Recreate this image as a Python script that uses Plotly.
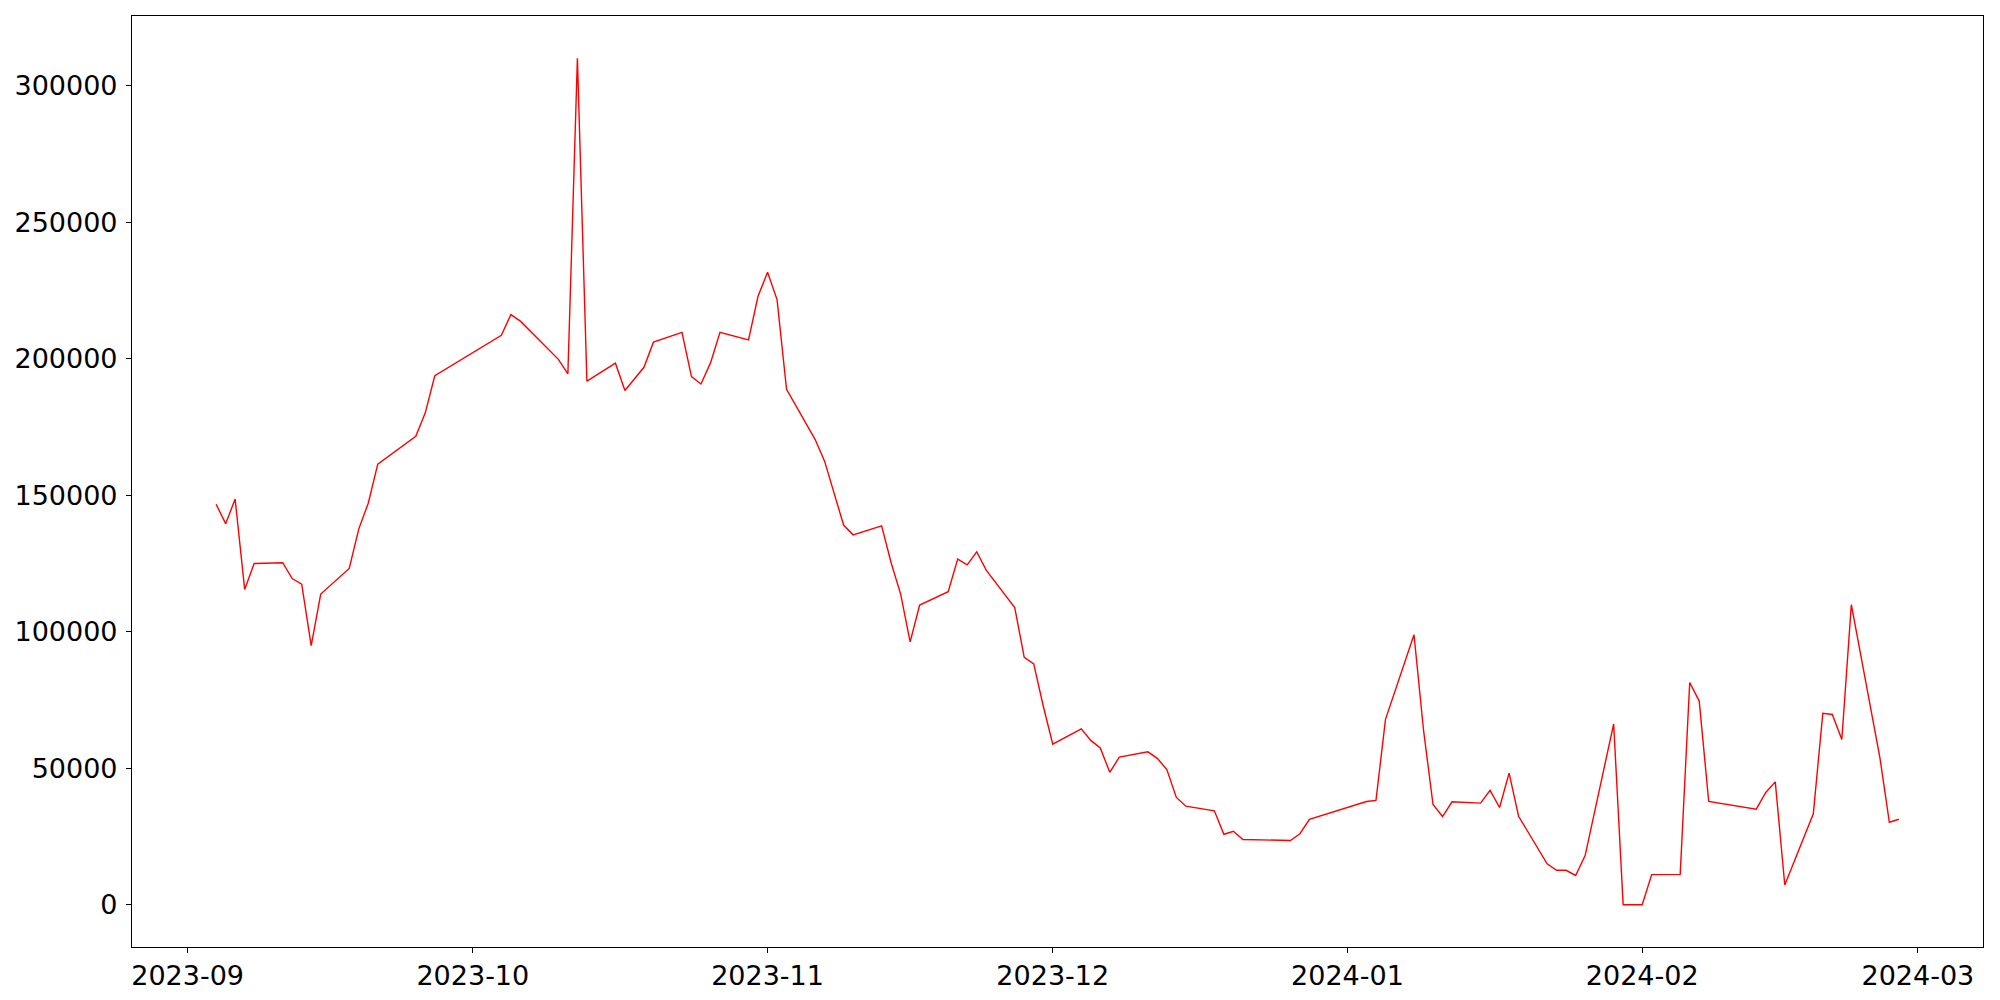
import pandas as pd
import plotly.graph_objects as go

dates = [
    "2023-09-04", "2023-09-05", "2023-09-06", "2023-09-07", "2023-09-08",
    "2023-09-11", "2023-09-12", "2023-09-13", "2023-09-14", "2023-09-15",
    "2023-09-18", "2023-09-19", "2023-09-20", "2023-09-21",
    "2023-09-25", "2023-09-26", "2023-09-27",
    "2023-10-04", "2023-10-05", "2023-10-06",
    "2023-10-10", "2023-10-11", "2023-10-12", "2023-10-13",
    "2023-10-16", "2023-10-17", "2023-10-19", "2023-10-20",
    "2023-10-23", "2023-10-24", "2023-10-25", "2023-10-26", "2023-10-27",
    "2023-10-30", "2023-10-31", "2023-11-01", "2023-11-02", "2023-11-03",
    "2023-11-06", "2023-11-07", "2023-11-09", "2023-11-10",
    "2023-11-13", "2023-11-14", "2023-11-15", "2023-11-16", "2023-11-17",
    "2023-11-20", "2023-11-21", "2023-11-22", "2023-11-23", "2023-11-24",
    "2023-11-27", "2023-11-28", "2023-11-29", "2023-11-30", "2023-12-01",
    "2023-12-04", "2023-12-05", "2023-12-06", "2023-12-07", "2023-12-08",
    "2023-12-11", "2023-12-12", "2023-12-13", "2023-12-14", "2023-12-15",
    "2023-12-18", "2023-12-19", "2023-12-20", "2023-12-21",
    "2023-12-26", "2023-12-27", "2023-12-28",
    "2024-01-03", "2024-01-04", "2024-01-05",
    "2024-01-08", "2024-01-09", "2024-01-10", "2024-01-11", "2024-01-12",
    "2024-01-15", "2024-01-16", "2024-01-17", "2024-01-18", "2024-01-19",
    "2024-01-22", "2024-01-23", "2024-01-24", "2024-01-25", "2024-01-26",
    "2024-01-29", "2024-01-30", "2024-02-01", "2024-02-02",
    "2024-02-05", "2024-02-06", "2024-02-07", "2024-02-08",
    "2024-02-13", "2024-02-14", "2024-02-15", "2024-02-16",
    "2024-02-19", "2024-02-20", "2024-02-21", "2024-02-22", "2024-02-23",
    "2024-02-26", "2024-02-27", "2024-02-28",
]

values = [
    146700, 139600, 148600, 115500, 125000,
    125300, 119500, 117400, 94900, 113800,
    123200, 137600, 147100, 161400,
    171600, 180200, 193800,
    208600, 216200, 213800,
    199800, 194500, 310100, 191800,
    198400, 188400, 196900, 206100,
    209700, 193500, 190800, 198500, 209700,
    206900, 222900, 231700, 221700, 188800,
    170500, 162500, 139100, 135500,
    138800, 125300, 113800, 96300, 109800,
    114700, 126600, 124500, 129300, 122600,
    108900, 90600, 88200, 72800, 58800,
    64400, 60200, 57400, 48500, 54100,
    56000, 53600, 49500, 39300, 36100,
    34400, 25800, 26900, 23900,
    23500, 26000, 31300,
    37800, 38200, 67900,
    98900, 64000, 36700, 32300, 37700,
    37200, 41900, 35600, 48200, 32400,
    15000, 12600, 12600, 10700, 18000,
    66200, 0, 0, 11000,
    11100, 81400, 74600, 37800,
    35000, 41100, 45000, 7200,
    33300, 70100, 69700, 60500, 109900,
    54000, 30200, 31300,
]

y_tick_values = [0, 50000, 100000, 150000, 200000, 250000, 300000]
y_tick_labels = ["0", "50000", "100000", "150000", "200000", "250000", "300000"]

# matplotlib-like 5% margins
d = pd.to_datetime(dates)
span = d.max() - d.min()
x_lo = d.min() - span * 0.05
x_hi = d.max() + span * 0.05
v_lo, v_hi = min(values), max(values)
v_span = v_hi - v_lo
y_lo = v_lo - v_span * 0.05
y_hi = v_hi + v_span * 0.05

fig = go.Figure()
fig.add_trace(go.Scatter(
    x=dates, y=values, mode="lines",
    line=dict(color="red", width=1.4),
    showlegend=False,
))

axis_common = dict(
    showline=True, mirror=True, linecolor="black", linewidth=1.1,
    ticks="outside", ticklen=5, tickwidth=1.1, tickcolor="black",
    showgrid=False, zeroline=False,
    tickfont=dict(family="DejaVu Sans", size=27, color="black"),
)

fig.update_xaxes(
    type="date",
    range=[x_lo.strftime("%Y-%m-%d %H:%M:%S"), x_hi.strftime("%Y-%m-%d %H:%M:%S")],
    tick0="2023-09-01", dtick="M1", tickformat="%Y-%m",
    **axis_common,
)
fig.update_yaxes(
    range=[y_lo, y_hi],
    tickvals=y_tick_values, ticktext=y_tick_labels,
    ticklabelstandoff=3,
    **axis_common,
)

fig.update_layout(
    width=2000, height=1000,
    margin=dict(l=124, r=25, t=8, b=61, pad=0, autoexpand=False),
    paper_bgcolor="white", plot_bgcolor="white",
    font=dict(family="DejaVu Sans", size=27, color="black"),
)

fig.write_html("out.html")
